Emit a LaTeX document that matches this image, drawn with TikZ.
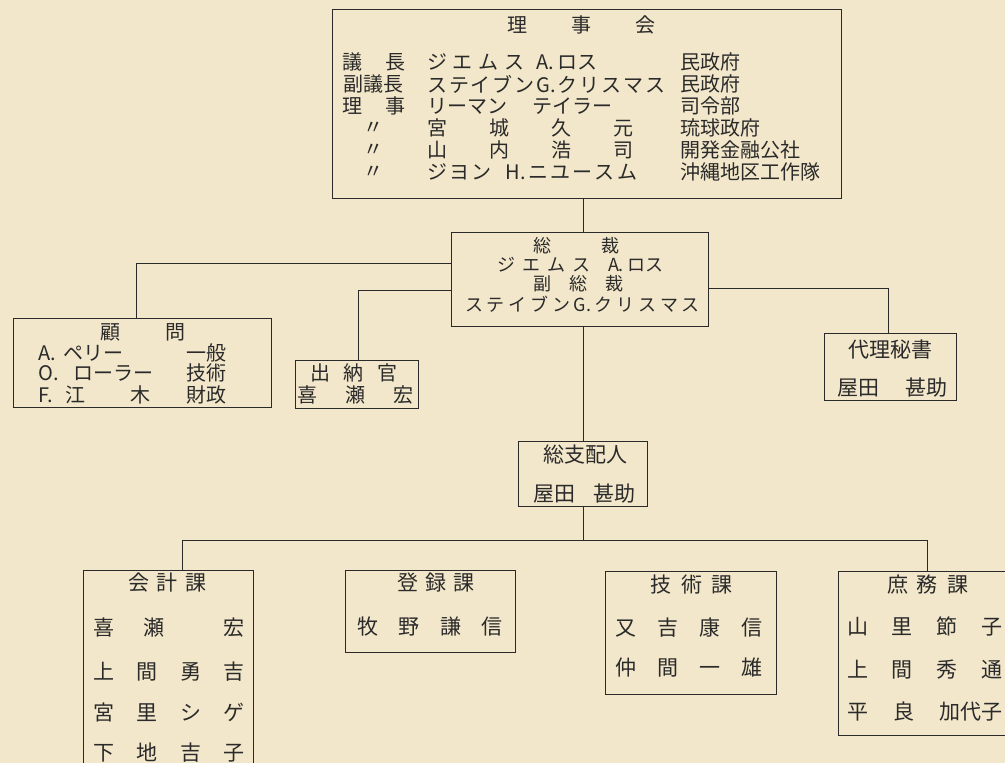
\documentclass[tikz,border=0pt]{standalone}
\usepackage{fontspec}
\newfontfamily\jp{Noto Sans CJK JP}
\definecolor{paper}{HTML}{F2E7CA}
\definecolor{ink}{HTML}{2A2A2A}
\tikzset{
  box/.style={draw=ink, line width=0.8pt, rectangle, inner sep=0pt},
  txt/.style={inner sep=0pt, text=ink, font=\jp\fontsize{20}{24}\selectfont},
  big/.style={txt, font=\jp\fontsize{21}{24}\selectfont},
  small/.style={txt, font=\jp\fontsize{18}{20}\selectfont},
  conn/.style={draw=ink, line width=0.8pt},
  heavy/.style={draw=ink, line width=1.5pt},
}
\newcommand{\spreadbox}[2]{\makebox[#1]{#2}}
\begin{document}
\begin{tikzpicture}[x=1pt,y=-1pt]
\useasboundingbox (0,0) rectangle (1005,763);
\fill[paper] (0,0) rectangle (1005,763);
\clip (0,0) rectangle (1005,763);

% ---------- boxes ----------
\node[box, minimum width=509pt, minimum height=189pt] (board) at (586.5,103.5) {};
\node[box, minimum width=257pt, minimum height=94pt]  (pres)  at (579.5,279) {};
\node[box, minimum width=258pt, minimum height=89pt]  (adv)   at (142,362.5) {};
\node[box, minimum width=123pt, minimum height=48pt]  (treas) at (356.5,384) {};
\node[box, minimum width=132pt, minimum height=67pt]  (sec)   at (890,366.5) {};
\node[box, minimum width=129pt, minimum height=65pt]  (gm)    at (583,473.5) {};
\node[box, minimum width=170pt, minimum height=220pt] (acc)   at (168,680) {};
\node[box, minimum width=170pt, minimum height=82pt]  (reg)   at (430,611) {};
\node[box, minimum width=171pt, minimum height=123pt] (tech)  at (690.5,632.5) {};
\node[box, minimum width=192pt, minimum height=164pt] (gen)   at (934,653) {};
\draw[heavy] (pres.south west) -- (pres.south east);
\draw[heavy] (adv.south west) -- (adv.south east);

% ---------- connector points ----------
\coordinate (advtap) at (136,263);
\coordinate (treastap) at (358,290);
\coordinate (sectap) at (888,288);
\coordinate (bus) at (583,540);
\coordinate (accdrop) at (182,540);
\coordinate (gendrop) at (927,540);

% ---------- connectors ----------
\draw[conn] (board.south -| gm.north) -- (pres.north -| gm.north);
\draw[conn] (pres.west |- advtap) -- (advtap) -- (adv.north -| advtap);
\draw[conn] (pres.west |- treastap) -- (treastap) -- (treas.north -| treastap);
\draw[conn] (pres.east |- sectap) -- (sectap) -- (sec.north -| sectap);
\draw[conn] (pres.south -| gm.north) -- (gm.north);
\draw[conn] (gm.south) -- (bus);
\draw[conn] (accdrop) -- (gendrop);
\draw[conn] (accdrop) -- (acc.north -| accdrop);
\draw[conn] (gendrop) -- (gen.north -| gendrop);

% ---------- board text ----------
\node[txt] (bt) at (581.5,25) {\spreadbox{148pt}{理\hfill 事\hfill 会}};
\node[txt, anchor=west] (b1a) at (342,62) {\spreadbox{63pt}{議\hfill 長}};
\node[txt, anchor=west] (b1b) at (427,62) {\spreadbox{170pt}{ジ\hfill エ\hfill ム\hfill ス\hspace{12pt}A.\hspace{3pt}ロス}};
\node[txt, anchor=west] (b1c) at (680,62) {民政府};
\node[txt, anchor=west] (b2a) at (342,84) {\spreadbox{63pt}{副議長}};
\node[txt, anchor=west] (b2b) at (427,84) {\spreadbox{238pt}{ス\hfill テ\hfill イ\hfill ブ\hfill ン\hfill G.\hfill ク\hfill リ\hfill ス\hfill マ\hfill ス}};
\node[txt, anchor=west] (b2c) at (680,84) {民政府};
\node[txt, anchor=west] (b3a) at (342,106) {\spreadbox{63pt}{理\hfill 事}};
\node[txt, anchor=west] (b3b) at (427,106) {\spreadbox{185pt}{リーマン\hfill テイラー}};
\node[txt, anchor=west] (b3c) at (680,106) {司令部};
\node[txt] (b4a) at (373,128) {〃};
\node[txt, anchor=west] (b4b) at (427,128) {\spreadbox{206pt}{宮\hfill 城\hfill 久\hfill 元}};
\node[txt, anchor=west] (b4c) at (680,128) {琉球政府};
\node[txt] (b5a) at (373,150) {〃};
\node[txt, anchor=west] (b5b) at (427,150) {\spreadbox{206pt}{山\hfill 内\hfill 浩\hfill 司}};
\node[txt, anchor=west] (b5c) at (680,150) {開発金融公社};
\node[txt] (b6a) at (373,172) {〃};
\node[txt, anchor=west] (b6b) at (427,172) {\spreadbox{210pt}{ジ\hfill ヨ\hfill ン\hspace{14pt}H.\hfill ニ\hfill ユ\hfill ー\hfill ス\hfill ム}};
\node[txt, anchor=west] (b6c) at (680,172) {沖縄地区工作隊};

% ---------- president ----------
\node[small] (p1) at (576.5,246) {\spreadbox{87pt}{総\hfill 裁}};
\node[small] (p2) at (580,265) {\spreadbox{166pt}{ジ\hfill エ\hfill ム\hfill ス\hspace{18pt}A.\hspace{3pt}ロス}};
\node[small] (p3) at (578,284) {\spreadbox{90pt}{副\hfill 総\hfill 裁}};
\node[small] (p4) at (582.5,304) {\spreadbox{235pt}{ス\hfill テ\hfill イ\hfill ブ\hfill ン\hfill G.\hfill ク\hfill リ\hfill ス\hfill マ\hfill ス}};

% ---------- advisers ----------
\node[txt] (a0) at (142.5,332) {\spreadbox{85pt}{顧\hfill 問}};
\node[txt, anchor=west] (a1) at (38,353) {\spreadbox{85pt}{A.\hfill ペリー}};
\node[txt, anchor=east] (a1r) at (227,353) {一般};
\node[txt, anchor=west] (a2) at (38,373) {\spreadbox{115pt}{O.\hfill ローラー}};
\node[txt, anchor=east] (a2r) at (227,373) {技術};
\node[txt, anchor=west] (a3) at (38,395) {\spreadbox{112pt}{F.\hspace{12pt}江\hfill 木}};
\node[txt, anchor=east] (a3r) at (227,395) {財政};

% ---------- treasurer ----------
\node[txt] (tr1) at (353.5,373) {\spreadbox{87pt}{出\hfill 納\hfill 官}};
\node[txt] (tr2) at (355,395) {\spreadbox{116pt}{喜\hfill 瀬\hfill 宏}};

% ---------- secretary ----------
\node[big] (s1) at (890,350) {代理秘書};
\node[big] (s2) at (892.5,388) {\spreadbox{111pt}{屋田\hfill 甚助}};

% ---------- general manager ----------
\node[big] (g1) at (585,455) {総支配人};
\node[big] (g2) at (584.5,494) {\spreadbox{103pt}{屋田\hfill 甚助}};

% ---------- accounting ----------
\node[big] (c0) at (167.5,583) {\spreadbox{79pt}{会\hfill 計\hfill 課}};
\node[big] (c1) at (169,628) {\spreadbox{152pt}{喜\hfill 瀬\hfill\hfill 宏}};
\node[big] (c2) at (169,672) {\spreadbox{152pt}{上\hfill 間\hfill 勇\hfill 吉}};
\node[big] (c3) at (169,712) {\spreadbox{152pt}{宮\hfill 里\hfill シ\hfill ゲ}};
\node[big] (c4) at (169,753) {\spreadbox{152pt}{下\hfill 地\hfill 吉\hfill 子}};

% ---------- registration ----------
\node[big] (r0) at (436,583) {\spreadbox{78pt}{登\hfill 録\hfill 課}};
\node[big] (r1) at (430,627) {\spreadbox{146pt}{牧\hfill 野\hfill 謙\hfill 信}};

% ---------- technical ----------
\node[big] (k0) at (691.5,585) {\spreadbox{83pt}{技\hfill 術\hfill 課}};
\node[big] (k1) at (689,628) {\spreadbox{148pt}{又\hfill 吉\hfill 康\hfill 信}};
\node[big] (k2) at (689,668) {\spreadbox{148pt}{仲\hfill 間\hfill 一\hfill 雄}};

% ---------- general affairs ----------
\node[big] (m0) at (927.5,585) {\spreadbox{81pt}{庶\hfill 務\hfill 課}};
\node[big] (m1) at (925,626) {\spreadbox{156pt}{山\hfill 里\hfill 節\hfill 子}};
\node[big] (m2) at (925,670) {\spreadbox{156pt}{上\hfill 間\hfill 秀\hfill 通}};
\node[big] (m3) at (925,712) {\spreadbox{156pt}{平\hfill 良\hfill 加代子}};
\end{tikzpicture}
\end{document}
